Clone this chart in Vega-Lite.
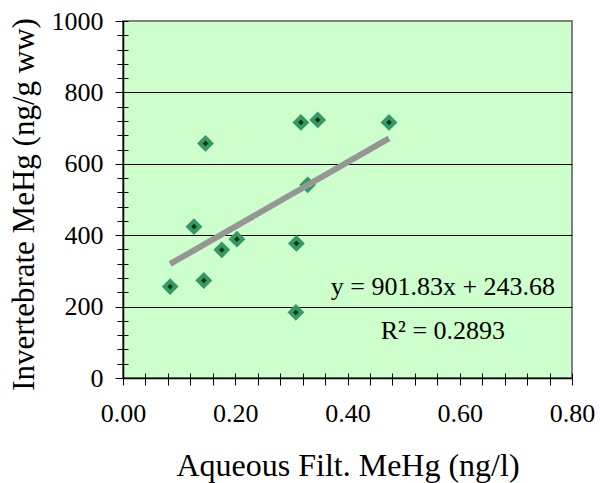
{
  "$schema": "https://vega.github.io/schema/vega-lite/v6.json",
  "width": 449,
  "height": 357,
  "autosize": {"type": "none"},
  "padding": {"left": 123, "top": 21, "right": 28, "bottom": 105},
  "background": "white",
  "config": {
    "view": {"fill": "#ccffcc", "stroke": "#808080", "strokeWidth": 2},
    "font": "Liberation Serif"
  },
  "datasets": {
    "pts": [
      {"aq": 0.084, "inv": 256},
      {"aq": 0.1265, "inv": 424},
      {"aq": 0.147, "inv": 657},
      {"aq": 0.144, "inv": 273},
      {"aq": 0.176, "inv": 359},
      {"aq": 0.203, "inv": 389},
      {"aq": 0.308, "inv": 184},
      {"aq": 0.309, "inv": 377},
      {"aq": 0.317, "inv": 716},
      {"aq": 0.329, "inv": 541},
      {"aq": 0.347, "inv": 723},
      {"aq": 0.474, "inv": 716}
    ],
    "fit": [
      {"aq": 0.084, "inv": 319.4},
      {"aq": 0.474, "inv": 671.1}
    ],
    "notes": [
      {"aq": 0.57, "inv": 232, "label": "y = 901.83x + 243.68"},
      {"aq": 0.57, "inv": 109, "label": "R² = 0.2893"}
    ]
  },
  "layer": [
    {
      "data": {"name": "pts"},
      "mark": {"type": "point", "shape": "diamond", "filled": true, "fill": "#003300", "stroke": "#339966", "strokeWidth": 4, "size": 125, "opacity": 1},
      "encoding": {
        "x": {
          "field": "aq", "type": "quantitative",
          "scale": {"domain": [0, 0.8], "nice": false},
          "axis": {
            "orient": "bottom",
            "values": [0,0.04,0.08,0.12,0.16,0.2,0.24,0.28,0.32,0.36,0.4,0.44,0.48,0.52,0.56,0.6,0.64,0.68,0.72,0.76,0.8],
            "labelExpr": "round(datum.value*100) % 20 === 0 ? format(datum.value, '.2f') : ''",
            "labelOverlap": false,
            "labelBound": false,
            "labelFlush": false,
            "labelFont": "Liberation Serif",
            "labelFontSize": 26,
            "labelColor": "black",
            "labelBaseline": "alphabetic",
            "labelPadding": 36,
            "tickSize": 7,
            "tickColor": "black",
            "tickWidth": 1,
            "domainColor": "black",
            "domainWidth": 1.5,
            "grid": false,
            "title": "Aqueous Filt. MeHg (ng/l)",
            "titleFont": "Liberation Serif",
            "titleFontSize": 32,
            "titleFontWeight": "normal",
            "titleColor": "black",
            "titleBaseline": "alphabetic",
            "titleY": 97,
            "titleX": 224.5,
            "titleAlign": "center"
          }
        },
        "y": {
          "field": "inv", "type": "quantitative",
          "scale": {"domain": [0, 1000], "nice": false},
          "axis": {
            "orient": "left",
            "values": [0,40,80,120,160,200,240,280,320,360,400,440,480,520,560,600,640,680,720,760,800,840,880,920,960,1000],
            "labelExpr": "datum.value % 200 === 0 ? format(datum.value, 'd') : ''",
            "labelOverlap": false,
            "labelBound": false,
            "labelFlush": false,
            "labelFont": "Liberation Serif",
            "labelFontSize": 26,
            "labelColor": "black",
            "labelBaseline": "middle",
            "labelPadding": 12,
            "tickSize": {"condition": {"test": "datum.value % 200 === 0", "value": 8}, "value": 6},
            "tickColor": "black",
            "tickWidth": 1,
            "domainColor": "black",
            "domainWidth": 1.5,
            "grid": true,
            "gridColor": "black",
            "gridWidth": 1,
            "gridOpacity": {"condition": {"test": "datum.value % 200 === 0 && datum.value > 0 && datum.value < 1000", "value": 1}, "value": 0},
            "title": "Invertebrate MeHg (ng/g ww)",
            "titleFont": "Liberation Serif",
            "titleFontSize": 31,
            "titleFontWeight": "normal",
            "titleColor": "black",
            "titleAngle": 270,
            "titleBaseline": "alphabetic",
            "titleAlign": "center",
            "titleX": -90,
            "titleY": 183
          }
        }
      }
    },
    {
      "data": {"name": "fit"},
      "mark": {"type": "line", "color": "#969696", "strokeWidth": 6, "strokeCap": "butt"},
      "encoding": {
        "x": {
          "field": "aq", "type": "quantitative",
          "axis": {
            "orient": "bottom",
            "values": [0,0.04,0.08,0.12,0.16,0.2,0.24,0.28,0.32,0.36,0.4,0.44,0.48,0.52,0.56,0.6,0.64,0.68,0.72,0.76,0.8],
            "labels": false, "domain": false, "grid": false, "title": null,
            "tickSize": -5, "tickColor": "black", "tickWidth": 1
          }
        },
        "y": {
          "field": "inv", "type": "quantitative",
          "axis": {
            "orient": "left",
            "values": [0,40,80,120,160,200,240,280,320,360,400,440,480,520,560,600,640,680,720,760,800,840,880,920,960,1000],
            "labels": false, "domain": false, "grid": false, "title": null,
            "tickSize": -5, "tickColor": "black", "tickWidth": 1
          }
        }
      }
    },
    {
      "data": {"name": "notes"},
      "mark": {"type": "text", "font": "Liberation Serif", "fontSize": 26, "align": "center", "baseline": "alphabetic", "color": "black"},
      "encoding": {
        "x": {"field": "aq", "type": "quantitative", "axis": null},
        "y": {"field": "inv", "type": "quantitative", "axis": null},
        "text": {"field": "label"}
      }
    }
  ],
  "resolve": {"axis": {"x": "independent", "y": "independent"}}
}
